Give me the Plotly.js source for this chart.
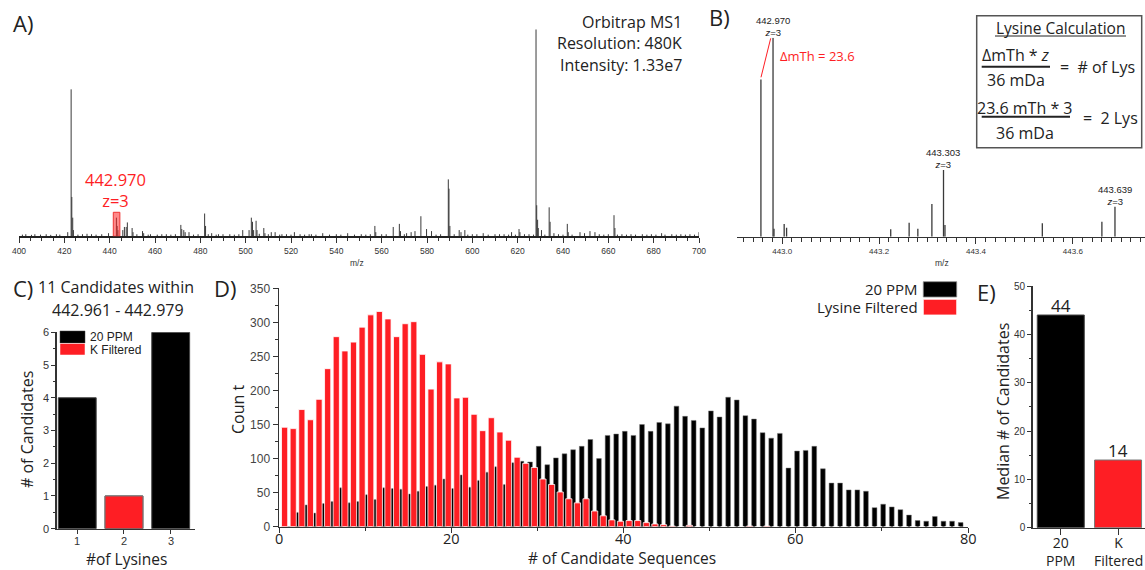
<!DOCTYPE html>
<html><head><meta charset="utf-8">
<script src="https://cdn.plot.ly/plotly-3.0.1.min.js"></script>
<style>html,body{margin:0;padding:0;background:#fff}#chart{width:1145px;height:570px}</style>
</head><body><div id="chart"></div>
<script>
// ---------- DATA ----------
// Panel A: MS1 spectrum (m/z, relative intensity %)
const specA_mz = [421.5,423.0,423.3,423.7,424.0,430,436.5,439.5,442.97,443.3,443.64,445.8,446.5,447.3,447.8,449.9,450.3,454.5,455,458,463,
  471.4,471.8,472.7,473.3,475.0,479,481.9,482.3,485,488,493,498.7,501.5,502.5,503.0,503.5,504.6,505.0,508.0,508.5,511.3,513,516,521.5,524,529,534,540,545,551,
  557.0,557.4,560,565.1,567.8,568.3,571,573,574.7,577.3,579.8,582.0,586,589.4,589.7,590.1,594.2,595,596.7,600,604.8,610,614,617.3,620.6,621,625,
  628.1,628.4,628.8,629.1,630.5,633.9,634.3,636,641.9,642.3,647.5,649.5,651.9,654.1,656,662.5,662.9,666,670,675,679,683.5,688,692,696,700,
  401.5,403,405.5,407,409.5,412,414,416.5,418,426,428,432,434,452,457,461,465,467,469,477,483.5,487,490,495,497,506,510,515,518,520,526,528,531,537,542,548,553,555,562,570,584,592,598,602,607,612,616,619,623,627,632,638,640,644,658,660,664,668,672,677,681,685,690,694,698];
const specA_int = [2,71,19,9,3,1.2,1,1.5,9,5,3,3,4.5,4.5,6.7,4,2,2.5,1.5,1,1,
  5.5,3.5,3,2,2,1,11,5,1.5,1,1,3,3,9,7,3,7.5,3,4,1.5,2,2,1,2,1,1,1.5,1,1.5,1,
  5,2,1,4.5,6,2.5,1.5,2,2.5,9.7,3.5,2.5,1,27.5,23,5,3,2,3,1,1.5,1,1,2,3.5,2,1,
  100,15,8,4,3,14,7,1.5,6,2,2,1.5,2.5,2,1,10.2,4,1,1,1,1,1.5,1,1,1,2,
  0.8,1,0.7,1,0.8,1,0.7,1,0.8,0.8,1,1,0.8,1,0.8,0.8,1,0.8,1,0.8,1,0.8,1,0.8,1,1.2,1,0.8,1,0.8,0.8,1,0.8,0.8,0.8,0.8,0.8,1,1,1,0.8,1,0.8,1,0.8,1,0.8,0.8,1,0.8,0.8,1,0.8,0.8,0.8,1,0.8,0.8,0.8,0.8,0.8,0.8,0.8,0.8,0.8];
const specA_ticks = [400,420,440,460,480,500,520,540,560,580,600,620,640,660,680,700];

// Panel B: zoomed isotope envelope
const specB_mz  = [442.956,442.981,442.983,443.004,443.009,443.224,443.262,443.280,443.309,443.333,443.336,443.537,443.660,443.687];
const specB_int = [79,100,4,6.4,4.5,3.7,7,4,16.4,33.5,5.9,6.7,7.5,15];
const peakLabelsB = ["442.970","443.303","443.639"];

// Panel C
const lysines = [1,2,3];
const c_ppm20 = [4,1,6];
const c_kfilt = [null,1,null];

// Panel D histogram
const candidates = [1,2,3,4,5,6,7,8,9,10,11,12,13,14,15,16,17,18,19,20,21,22,23,24,25,26,27,28,29,30,31,32,33,34,35,36,37,38,39,40,
  41,42,43,44,45,46,47,48,49,50,51,52,53,54,55,56,57,58,59,60,61,62,63,64,65,66,67,68,69,70,71,72,73,74,75,76,77,78,79];
const d_ppm20 = [0,21,32,20,34,37,57,35,37,47,40,57,56,55,48,52,59,61,70,56,76,58,68,80,88,62,94,96,95,118,91,101,107,113,118,128,100,134,136,140,
  134,150,140,153,151,177,162,156,145,170,161,190,186,163,158,138,130,137,86,111,112,118,85,64,64,54,54,52,28,33,29,25,17,9,8,15,8,8,6];
const d_lysine = [146,144,172,157,187,232,279,258,271,293,311,316,305,279,298,301,253,202,242,239,189,190,165,141,160,139,127,102,93,87,70,62,51,41,35,41,23,16,10,8,
  9,9,6,4,3,1,0,2,0,0,0,0,0,0,1,0,1,0,0,0,0,0,0,0,0,0,0,0,0,0,0,0,0,0,0,0,0,0,0];
const d_xticks = [0,20,40,60,80];

// Panel E
const e_groups = [0,1];
const e_labels = ["20<br>PPM","K<br>Filtered"];
const e_ppm20 = [44];
const e_kfilt = [14];

// ---------- HELPERS ----------
const W=1145, H=570;
const px = v => v/W;
const py = v => 1 - v/H;
const RED = '#fe1e24';
const TXT = '#222';
const SANS = 'Open Sans, Noto Sans, sans-serif';
const ARIAL = 'Liberation Sans, Arial, sans-serif';
function sticks(mz, inten){const x=[],y=[];for(let i=0;i<mz.length;i++){x.push(mz[i],mz[i],null);y.push(0,inten[i],null);}return {x,y};}

const sA = sticks(specA_mz, specA_int);
const sB = sticks(specB_mz, specB_int);

const traces = [
  {type:'scatter',mode:'lines',x:sA.x,y:sA.y,xaxis:'x',yaxis:'y',line:{color:'#3a3a3a',width:1},connectgaps:false,showlegend:false,hoverinfo:'skip'},
  {type:'scatter',mode:'lines',x:sB.x,y:sB.y,xaxis:'x2',yaxis:'y2',line:{color:'#3a3a3a',width:1.3},connectgaps:false,showlegend:false,hoverinfo:'skip'},
  {type:'bar',x:lysines,y:c_ppm20,xaxis:'x3',yaxis:'y3',width:0.81,marker:{color:'#000',line:{color:'#444',width:1}},name:'20 PPM',showlegend:false},
  {type:'bar',x:lysines,y:c_kfilt,xaxis:'x3',yaxis:'y3',width:0.81,marker:{color:RED,line:{color:'#777',width:1}},name:'K Filtered',showlegend:false},
  {type:'bar',x:candidates,y:d_ppm20,xaxis:'x4',yaxis:'y4',width:0.55,offset:-0.125,marker:{color:'#000',line:{color:'#777',width:0.5}},name:'20 PPM',showlegend:false},
  {type:'bar',x:candidates,y:d_lysine,xaxis:'x4',yaxis:'y4',width:0.72,offset:-0.71,marker:{color:RED,line:{color:'#fff',width:0.8}},name:'Lysine Filtered',showlegend:false},
  {type:'bar',x:[e_groups[0]],y:e_ppm20,xaxis:'x5',yaxis:'y5',width:0.82,marker:{color:'#000',line:{color:'#444',width:1}},name:'20 PPM',showlegend:false},
  {type:'bar',x:[e_groups[1]],y:e_kfilt,xaxis:'x5',yaxis:'y5',width:0.82,marker:{color:RED,line:{color:'#777',width:1}},name:'K Filtered',showlegend:false}
];

const axBase = {showgrid:false,zeroline:false,showline:true,linecolor:'#333',linewidth:1.5,ticks:'outside',tickcolor:'#333',tickwidth:1,fixedrange:true};

const layout = {
  width:W,height:H,margin:{l:0,r:0,t:0,b:0},paper_bgcolor:'#fff',plot_bgcolor:'rgba(0,0,0,0)',
  barmode:'overlay',showlegend:false,
  xaxis: Object.assign({},axBase,{domain:[px(19),px(699)],anchor:'y',range:[400,700],tickvals:specA_ticks,ticklen:5,linewidth:2,linecolor:'#222',
          minor:{dtick:5,tick0:400,ticks:'outside',ticklen:3,tickcolor:'#333'},tickfont:{family:ARIAL,size:8.5,color:'#333'}}),
  yaxis: {domain:[py(236.3),py(29.3)],anchor:'x',range:[0,100],visible:false,fixedrange:true},
  xaxis2: Object.assign({},axBase,{domain:[px(736.7),1],anchor:'y2',range:[442.906,443.749],tick0:443.0,dtick:0.2,tickformat:'.1f',ticklen:6,
          minor:{dtick:0.02,tick0:443.0,ticks:'outside',ticklen:4,tickcolor:'#333'},tickfont:{family:ARIAL,size:8,color:'#333'}}),
  yaxis2: {domain:[py(236.7),py(37.7)],anchor:'x2',range:[0,100],visible:false,fixedrange:true},
  xaxis3: Object.assign({},axBase,{domain:[px(56.7),px(195)],anchor:'y3',range:[0.56,3.52],tickvals:lysines,showticklabels:false,ticklen:4}),
  yaxis3: Object.assign({},axBase,{domain:[py(528.7),py(332.3)],anchor:'x3',range:[0,6],dtick:1,ticklen:4,
          minor:{dtick:0.5,ticks:'outside',ticklen:2.5,tickcolor:'#333'},tickfont:{family:ARIAL,size:11,color:'#333'}}),
  xaxis4: Object.assign({},axBase,{domain:[px(279),px(968)],anchor:'y4',range:[0,80],tickvals:d_xticks,showticklabels:false,ticklen:5,
          minor:{dtick:10,ticks:'outside',ticklen:3,tickcolor:'#333'}}),
  yaxis4: Object.assign({},axBase,{domain:[py(526.7),py(288.3)],anchor:'x4',range:[0,350],dtick:50,ticklen:5,
          minor:{dtick:25,ticks:'outside',ticklen:3,tickcolor:'#333'},tickfont:{family:ARIAL,size:12,color:'#444'}}),
  xaxis5: Object.assign({},axBase,{domain:[px(1032.7),1],anchor:'y5',range:[-0.49,1.47],tickvals:e_groups,showticklabels:false,ticklen:6}),
  yaxis5: Object.assign({},axBase,{domain:[py(527.7),py(286)],anchor:'x5',range:[0,50],dtick:10,ticklen:4,
          minor:{dtick:5,ticks:'outside',ticklen:2.5,tickcolor:'#333'},tickfont:{family:ARIAL,size:10,color:'#333'}}),
  shapes:[
    {type:'rect',xref:'x',yref:'y',x0:441.6,x1:444.5,y0:0,y1:11.6,fillcolor:'rgba(255,40,40,0.55)',line:{color:'#e33',width:1}},
    {type:'line',xref:'paper',yref:'paper',x0:px(761),y0:py(77.3),x1:px(770.7),y1:py(38.3),line:{color:RED,width:1}},
    {type:'rect',xref:'paper',yref:'paper',x0:px(976.7),x1:px(1141.7),y0:py(147.7),y1:py(15.7),line:{color:'#555',width:1.5},fillcolor:'rgba(0,0,0,0)'},
    {type:'line',xref:'paper',yref:'paper',x0:px(995),x1:px(1126),y0:py(36),y1:py(36),line:{color:'#222',width:1}},
    {type:'line',xref:'paper',yref:'paper',x0:px(981.7),x1:px(1050),y0:py(66.7),y1:py(66.7),line:{color:'#222',width:2}},
    {type:'line',xref:'paper',yref:'paper',x0:px(981.7),x1:px(1070),y0:py(116.7),y1:py(116.7),line:{color:'#222',width:2}},
    {type:'rect',xref:'paper',yref:'paper',x0:px(60),x1:px(85),y0:py(343),y1:py(331),fillcolor:'#000',line:{color:'#444',width:0.5}},
    {type:'rect',xref:'paper',yref:'paper',x0:px(60),x1:px(85),y0:py(355),y1:py(343.5),fillcolor:RED,line:{color:'#fff',width:0.5}},
    {type:'rect',xref:'paper',yref:'paper',x0:px(923.3),x1:px(956.7),y0:py(297),y1:py(281.7),fillcolor:'#000',line:{color:'#888',width:0.8}},
    {type:'rect',xref:'paper',yref:'paper',x0:px(923.3),x1:px(956.7),y0:py(315),y1:py(299.3),fillcolor:RED,line:{color:'#fff',width:0.8}}
  ],
  annotations:[]
};

function ann(text,x,y,opt){
  const o = Object.assign({size:16,family:SANS,color:TXT,xanchor:'center',angle:0},opt||{});
  layout.annotations.push({text:text,xref:'paper',yref:'paper',x:px(x),y:py(y),xanchor:o.xanchor,yanchor:'middle',
    showarrow:false,textangle:o.angle,font:{family:o.family,size:o.size,color:o.color},align:o.xanchor==='right'?'right':(o.xanchor==='left'?'left':'center')});
}
// Panel A
ann('A)',11,23,{size:22,xanchor:'left'});
ann('Orbitrap MS1',683.5,21.7,{xanchor:'right'});
ann('Resolution: 480K',683.5,43.3,{xanchor:'right'});
ann('Intensity: 1.33e7',683.5,65,{xanchor:'right'});
ann('442.970<br>z=3',115,189.8,{size:16.5,color:RED});
ann('m/z',357,263,{size:8.5,family:ARIAL,color:'#333'});
// Panel B
ann('B)',707,17,{size:22,xanchor:'left'});
ann(peakLabelsB[0]+'<br><i>z</i>=3',772.7,26,{size:9.5,family:ARIAL});
ann(peakLabelsB[1]+'<br><i>z</i>=3',942.5,158.5,{size:9.5,family:ARIAL});
ann(peakLabelsB[2]+'<br><i>z</i>=3',1115,195.5,{size:9.5,family:ARIAL});
ann('ΔmTh = 23.6',778,56,{size:13,color:RED,xanchor:'left'});
ann('m/z',942,263,{size:8.5,family:ARIAL,color:'#333'});
ann('Lysine Calculation',1060,27.5,{size:15.5});
ann('ΔmTh * <i>z</i>',1016,55.5,{size:16});
ann('36 mDa',1016,80,{size:16});
ann('=  # of Lys',1058,67,{size:16,xanchor:'left'});
ann('23.6 mTh * 3',1025,107.5,{size:16});
ann('36 mDa',1025,133.5,{size:16});
ann('=  2 Lys',1081,118,{size:16,xanchor:'left'});
// Panel C
ann('C)',11,288,{size:22,xanchor:'left'});
ann('11 Candidates within',116,287,{size:16});
ann('442.961 - 442.979',118,309.5,{size:16});
ann('20 PPM',88,337,{size:12,family:ARIAL,xanchor:'left'});
ann('K Filtered',88,349.5,{size:12,family:ARIAL,xanchor:'left'});
ann('# of Candidates',27,430,{size:16,angle:-90});
ann('#of Lysines',126,558.5,{size:15.5});
lysines.forEach(v => layout.annotations.push({text:String(v),xref:'x3',yref:'paper',x:v,y:py(540.5),yanchor:'middle',showarrow:false,borderpad:0,font:{family:ARIAL,size:11,color:'#333'}}));
// Panel D
ann('D)',212,288,{size:22,xanchor:'left'});
ann('Coun t',238,410,{size:16,angle:-90});
ann('# of Candidate Sequences',622,557.5,{size:15.5});
ann('20 PPM',920,288.5,{size:15,xanchor:'right'});
ann('Lysine Filtered',920,306.5,{size:15,xanchor:'right'});
d_xticks.forEach(v => layout.annotations.push({text:String(v),xref:'x4',yref:'paper',x:v,y:py(538.5),yanchor:'middle',showarrow:false,font:{family:SANS,size:14.5,color:TXT}}));
// Panel E
ann('E)',975,291.5,{size:22,xanchor:'left'});
ann('Median # of Candidates',1003,412,{size:16,angle:-90});
e_groups.forEach((g,i) => layout.annotations.push({text:e_labels[i],xref:'x5',yref:'paper',x:g,y:py(551.5),yanchor:'middle',showarrow:false,borderpad:0,font:{family:SANS,size:14,color:TXT}}));
layout.annotations.push({text:String(e_ppm20[0]),xref:'x5',yref:'y5',x:e_groups[0],y:e_ppm20[0],yanchor:'bottom',yshift:-4,showarrow:false,font:{family:SANS,size:17,color:TXT}});
layout.annotations.push({text:String(e_kfilt[0]),xref:'x5',yref:'y5',x:e_groups[1],y:e_kfilt[0],yanchor:'bottom',yshift:-4,showarrow:false,font:{family:SANS,size:17,color:TXT}});

Plotly.newPlot('chart',traces,layout,{displayModeBar:false,staticPlot:true});
</script></body></html>
